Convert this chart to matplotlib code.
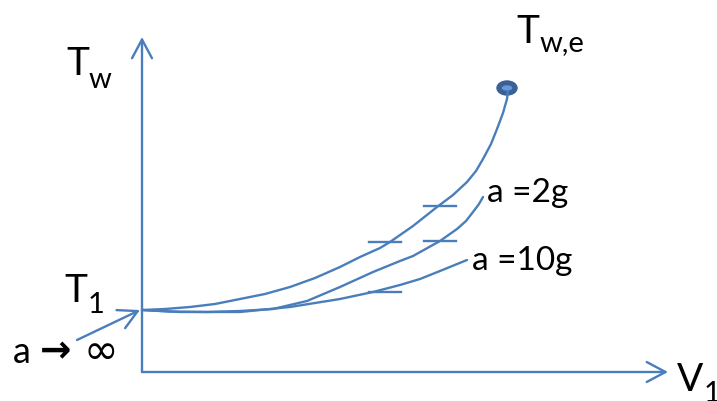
import matplotlib.pyplot as plt
from matplotlib.patches import Ellipse

plt.rcParams['font.family'] = ['Lato', 'DejaVu Sans']

# 曲线数据（图像像素坐标，y向下）
main_x = [142, 165, 190, 215, 240, 265, 290, 315, 340, 360, 380, 390, 413, 437,
          453, 467, 476, 483, 491, 497, 503, 507, 508]
main_y = [311, 310, 308, 305, 300, 295, 288, 279, 268, 258, 249, 243, 227, 208,
          196, 183, 172, 160, 145, 130, 114, 100, 92]
g2_x = [142, 170, 207, 240, 273, 307, 340, 373, 400, 413, 440, 457, 466, 473, 479, 483]
g2_y = [311, 312.5, 313, 312, 310, 302, 288, 273, 262, 257, 242, 230, 222, 213, 205, 198]
g10_x = [142, 180, 240, 290, 340, 373, 400, 420, 440, 467]
g10_y = [311, 313, 313, 308, 300, 293, 286, 280, 272, 261]
# 刻线中心
hash_x = [385, 440, 440, 385]
hash_y = [243, 207, 242, 293]
end_pt = (507, 89)

c = '#4a7ebb'
fig = plt.figure(figsize=(7.17, 4.02), dpi=100)
ax = fig.add_axes([0, 0, 1, 1])
ax.set_xlim(0, 717)
ax.set_ylim(402, 0)
ax.axis('off')

arrow = dict(arrowstyle='->,head_length=0.45,head_width=0.24', lw=1.7, color=c,
             mutation_scale=30, shrinkA=0, shrinkB=0)
# 坐标轴
ax.annotate('', xy=(142, 38), xytext=(142, 373), arrowprops=arrow)
ax.annotate('', xy=(668, 373), xytext=(142, 373), arrowprops=arrow)
ax.annotate('', xy=(140, 311), xytext=(77, 341), arrowprops=arrow)

# 曲线
for xs, ys in [(main_x, main_y), (g2_x, g2_y), (g10_x, g10_y)]:
    ax.plot(xs, ys, color=c, lw=1.7, solid_capstyle='round', solid_joinstyle='round')
for hx, hy in zip(hash_x, hash_y):
    ax.plot([hx - 16, hx + 16], [hy, hy], color=c, lw=1.7)

ax.add_patch(Ellipse(end_pt, 20, 14, color='#3b6096'))
ax.add_patch(Ellipse(end_pt, 9, 4, color='#6a98d8'))

# 文字
big = 28
sub = 21
ax.text(66, 75, 'T', fontsize=big, va='baseline')
ax.text(89, 88, 'w', fontsize=sub, va='baseline')
ax.text(64, 302, 'T', fontsize=big, va='baseline')
ax.text(88, 313, '1', fontsize=sub, va='baseline')
ax.text(13, 363, 'a', fontsize=26, va='baseline')
ax.text(40, 362, '\u2192', fontsize=27, va='baseline', family=['DejaVu Sans'],
        fontweight='bold')
ax.text(84, 364, '\u221e', fontsize=30, va='baseline', family=['DejaVu Sans'])
ax.text(516, 43, 'T', fontsize=big, va='baseline')
ax.text(540, 51, 'w,e', fontsize=sub, va='baseline')
ax.text(487, 202, 'a =2g', fontsize=24, va='baseline')
ax.text(472, 270, 'a =10g', fontsize=24, va='baseline')
ax.text(677, 391, 'V', fontsize=big, va='baseline')
ax.text(704, 402, '1', fontsize=sub, va='baseline')

fig.savefig('out.png', dpi=100)
